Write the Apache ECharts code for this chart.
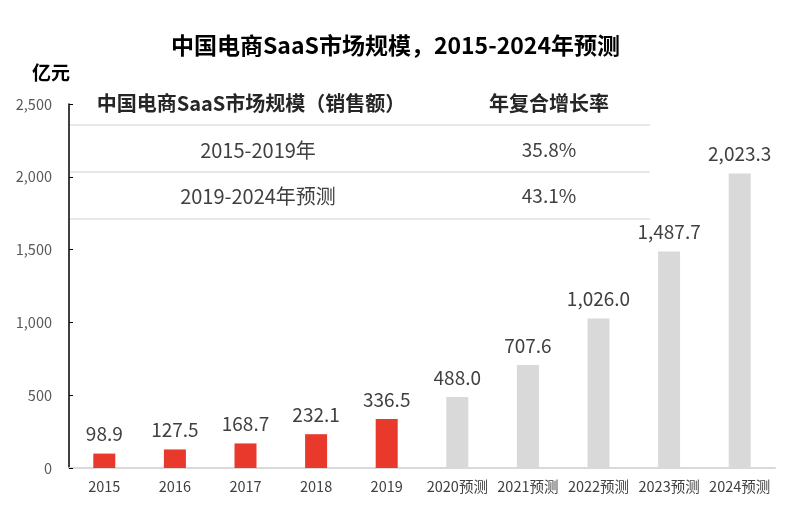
<!DOCTYPE html>
<html>
<head>
<meta charset="utf-8">
<script src="https://cdn.jsdelivr.net/npm/echarts@6/dist/echarts.min.js"></script>
<style>
  html, body { margin: 0; padding: 0; background: #fff; }
  #chart { width: 791px; height: 518px; }
</style>
</head>
<body>
<div id="chart"></div>
<script>
// data
const categories = ['2015', '2016', '2017', '2018', '2019', '2020预测', '2021预测', '2022预测', '2023预测', '2024预测']
const marketSize = [98.9, 127.5, 168.7, 232.1, 336.5, 488.0, 707.6, 1026.0, 1487.7, 2023.3]
const isForecast = [false, false, false, false, false, true, true, true, true, true]
const tableHeader = ['中国电商SaaS市场规模（销售额）', '年复合增长率']
const tablePeriods = ['2015-2019年', '2019-2024年预测']
const tableCagr = ['35.8%', '43.1%']

const FONT = '"Noto Sans CJK SC", "Noto Sans", sans-serif'
const RED = '#e8392c'
const GREY = '#d9d9d9'

const fmt = (v, d) => Number(v).toLocaleString('en-US', { minimumFractionDigits: d, maximumFractionDigits: d })

const chart = echarts.init(document.getElementById('chart'))

// table drawn as graphic elements (text centred on x, y)
const colX = [251, 549]
const headerY = 103
const rowY = [150, 196]
const cell = (text, x, y, font, fill) => ({
  type: 'text', x: x, y: y,
  style: { text: text, font: font, fill: fill, textAlign: 'center', textVerticalAlign: 'middle' }
})
const tableGraphics = []
tableHeader.forEach((t, i) => {
  tableGraphics.push(cell(t, colX[i], headerY, 'bold 20px ' + FONT, '#262626'))
})
;[125, 172, 219].forEach(y => {
  tableGraphics.push({
    type: 'line', shape: { x1: 69, y1: y, x2: 650, y2: y },
    style: { stroke: '#e8e8e8', lineWidth: 2 }
  })
})
tablePeriods.forEach((p, r) => {
  tableGraphics.push(cell(p, 258, rowY[r], '20px ' + FONT, '#404040'))
  tableGraphics.push(cell(tableCagr[r], colX[1], rowY[r], '19px ' + FONT, '#404040'))
})

const option = {
  animation: false,
  title: {
    text: '中国电商SaaS市场规模，2015-2024年预测',
    left: 'center',
    top: 29,
    textStyle: { fontFamily: FONT, fontSize: 23, fontWeight: 'bold', color: '#000' }
  },
  grid: { left: 69, right: 16, top: 104, bottom: 50, containLabel: false },
  xAxis: {
    type: 'category',
    data: categories,
    axisLine: { show: true, lineStyle: { color: '#d9d9d9', width: 2 } },
    axisTick: { show: false },
    axisLabel: { color: '#404040', fontSize: 14.5, fontFamily: FONT, margin: 11, interval: 0 }
  },
  yAxis: {
    type: 'value',
    min: 0,
    max: 2500,
    interval: 500,
    name: '亿元',
    nameLocation: 'end',
    nameGap: 22,
    nameTextStyle: { fontFamily: FONT, fontSize: 19, fontWeight: 'bold', color: '#000', align: 'right', padding: [0, -1, 0, 0] },
    axisLine: { show: true, lineStyle: { color: '#000', width: 1.5 } },
    axisTick: { show: true, inside: true, length: 4, lineStyle: { color: '#000' } },
    splitLine: { show: false },
    axisLabel: {
      color: '#595959', fontSize: 14.5, fontFamily: FONT, margin: 17,
      formatter: v => fmt(v, 0)
    }
  },
  graphic: tableGraphics,
  series: [{
    type: 'bar',
    barWidth: 22,
    data: marketSize.map((v, i) => ({ value: v, itemStyle: { color: isForecast[i] ? GREY : RED } })),
    label: {
      show: true,
      position: 'top',
      distance: 10,
      color: '#404040',
      fontSize: 19,
      fontFamily: FONT,
      formatter: p => fmt(p.value, 1)
    }
  }]
}
option && chart.setOption(option)
</script>
</body>
</html>
